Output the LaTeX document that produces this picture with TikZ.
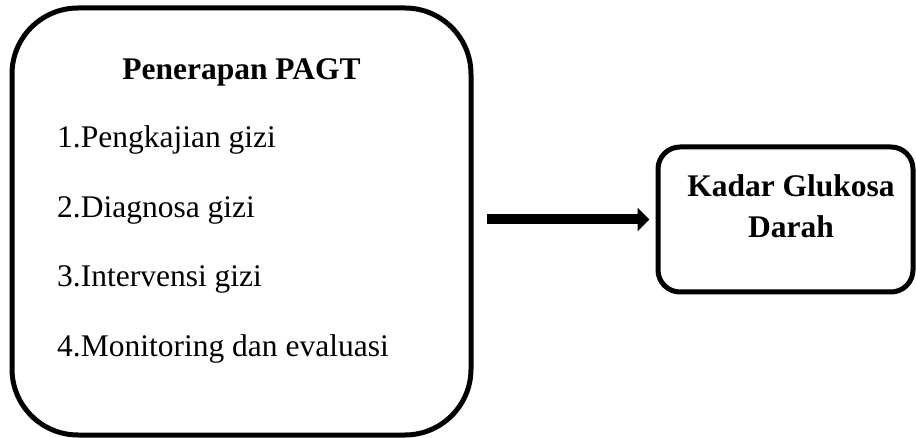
\documentclass[tikz,border=0pt]{standalone}
\usepackage{fontspec}
\setmainfont{Liberation Serif}
\usetikzlibrary{positioning}
\usetikzlibrary{arrows.meta,calc}

\begin{document}
\begin{tikzpicture}[
x=1pt, y=1pt,
box/.style = {
  draw,
  line width=5pt,
  inner sep=0pt},
item/.style = {
  inner sep=0pt,
  anchor=base west,
  font=\fontsize{31.5}{41}\selectfont},
judul/.style = {
  inner sep=0pt,
  align=center,
  font=\fontsize{31.5}{41}\selectfont\bfseries},
line/.style = {draw=black, line width=10pt, -{Triangle[length=12pt,width=23pt]}},
]
\useasboundingbox (0,0) rectangle (916,-438);

\node[box, rounded corners=66pt, minimum width=459pt, minimum height=427pt] (pagt) at (241.5,-221.5) {};
\node[box, rounded corners=22pt, minimum width=255pt, minimum height=145pt] (kgd) at (785.5,-219.5) {};

\node[judul, anchor=base] (judul) at (241.5,-80) {Penerapan PAGT};
\foreach \i/\teks [count=\n] in {148/1.Pengkajian gizi, 217.5/2.Diagnosa gizi, 287/3.Intervensi gizi, 356/4.Monitoring dan evaluasi}
  \node[item] (item\n) at (57,-\i) {\teks};

\node[judul, anchor=base] (kadar) at (791,-238) {Kadar Glukosa\\Darah};

 \begin{scope}[every path/.style=line]
\path[shorten <=13pt, shorten >=6pt] (pagt.east |- kgd.west) -- (kgd.west) ;
\end{scope}

\end{tikzpicture}
\end{document}
